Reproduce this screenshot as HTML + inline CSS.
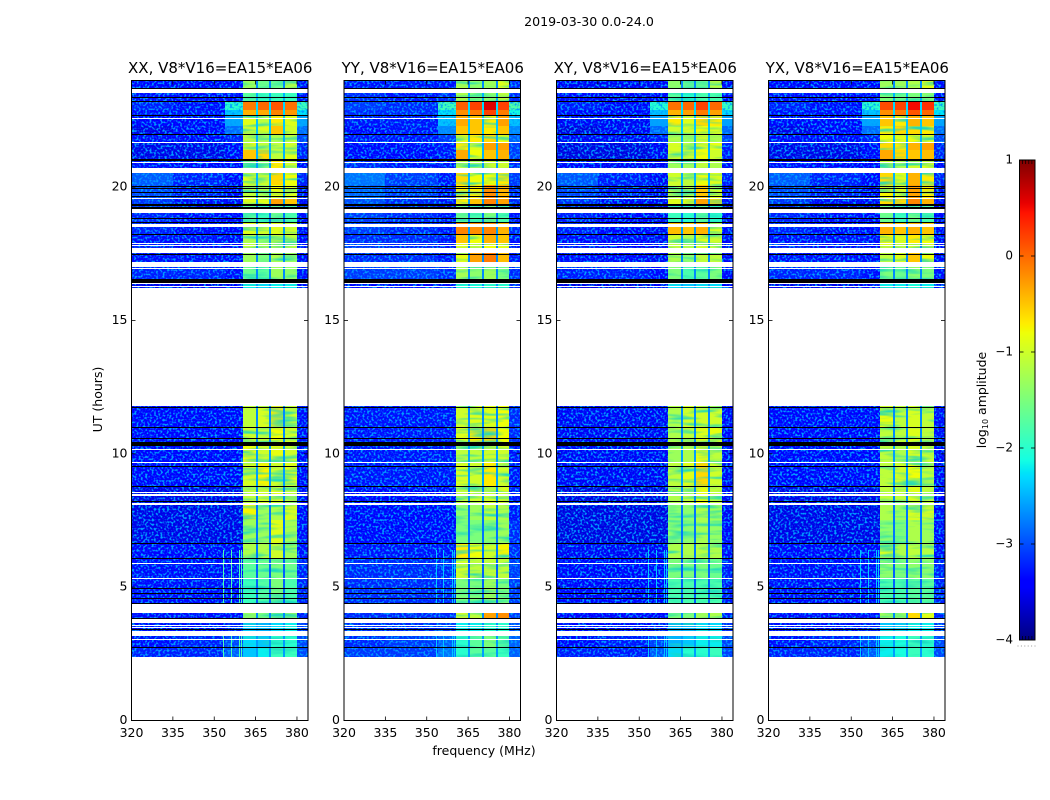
<!DOCTYPE html>
<html lang="en">
<head>
<meta charset="utf-8">
<title>2019-03-30 amplitude waterfall</title>
<style>
html,body{margin:0;padding:0;background:#fff;width:1050px;height:800px;overflow:hidden}
svg{display:block}
text{font-family:"DejaVu Sans","Liberation Sans",sans-serif;fill:#000}
</style>
</head>
<body>
<svg id="chart" xmlns="http://www.w3.org/2000/svg" width="1050" height="800" viewBox="0 0 1050 800">
  <defs>
    <filter id="grain" filterUnits="userSpaceOnUse" x="0" y="0" width="1050" height="800" color-interpolation-filters="sRGB">
      <feTurbulence type="fractalNoise" baseFrequency="0.46" numOctaves="1" seed="7"/>
      <feColorMatrix type="matrix" values="0 0 0 0 0  0 0 0 0 0.62  0 0 0 0 1  5 0 0 0 -2.4"/>
      <feComposite in2="SourceAlpha" operator="in"/>
    </filter>
    <filter id="streaks" filterUnits="userSpaceOnUse" x="0" y="0" width="1050" height="800" color-interpolation-filters="sRGB">
      <feTurbulence type="fractalNoise" baseFrequency="0.03 0.22" numOctaves="2" seed="11"/>
      <feColorMatrix type="matrix" values="0 0 0 0 0.1  0 0 0 0 0.85  0 0 0 0 0.75  2.6 0 0 0 -1.2"/>
      <feComposite in2="SourceAlpha" operator="in"/>
    </filter>
  </defs>
  <text x="589" y="26" font-size="12.6" text-anchor="middle">2019-03-30 0.0-24.0</text>
  <text x="484" y="755" font-size="12.5" text-anchor="middle">frequency (MHz)</text>
  <text x="0" y="0" font-size="12.5" text-anchor="middle" transform="translate(102,399.5) rotate(-90)">UT (hours)</text>
  <text x="0" y="0" font-size="12.5" text-anchor="middle" transform="translate(986,400) rotate(-90)">log<tspan font-size="8" dy="2">10</tspan><tspan dy="-2"> amplitude</tspan></text>
</svg>
<script>
// ---- categories and axes ----
const panelTitles = ["XX, V8*V16=EA15*EA06", "YY, V8*V16=EA15*EA06", "XY, V8*V16=EA15*EA06", "YX, V8*V16=EA15*EA06"];
const xTicks = [320, 335, 350, 365, 380];
const yTicks = [0, 5, 10, 15, 20];
const colorTicks = [1, 0, -1, -2, -3, -4];
const bandStartMHz = [360.6, 365.7, 370.6, 375.8];
const bandEndMHz = [365.1, 370, 375, 380];

// ---- time rows (UT hours) ----
const rowStartUT = [24,23.66,23.16,22.88,22.65,22.28,21.94,21.66,21.38,21,20.71,20.06,19.56,19.28,18.62,18.21,17.89,17.51,17.18,16.54,
  11.78,10.99,10.43,9.66,8.76,8.06,7.5,6.62,6.06,5.29,4.35,3.82,3.15,2.7];
const rowEndUT = [23.66,23.16,22.88,22.65,22.28,21.94,21.66,21.38,21,20.71,20.06,19.56,19.28,18.62,18.21,17.89,17.51,17.18,16.54,16.2,
  10.99,10.43,9.66,8.76,8.06,7.5,6.62,6.06,5.29,4.35,3.82,3.15,2.7,2.36];

// ---- log10 amplitude: off-band regions, one value per row ----
const leftLevels = [-3.2,-3.1,-3,-3.1,-3.2,-3.3,-3.2,-3.3,-3.3,-3.1,-2.7,-2.8,-2.9,-3,-3,-3.1,-3,-3.1,-3,-3.3,
  -3.2,-3.2,-3.2,-3.2,-3.3,-3.3,-3.3,-3.2,-3.1,-3.1,-3.1,-3.1,-3.1,-3];
const midLevels = [-3.2,-3.2,-3.1,-3.1,-3.2,-3.2,-3.2,-3.3,-3.3,-3.2,-3,-3,-3.1,-3.1,-3.1,-3.1,-3.1,-3.1,-3,-3.3,
  -3.2,-3.2,-3.2,-3.2,-3.3,-3.3,-3.3,-3.2,-3.1,-3.1,-3.1,-3.1,-3,-3];
const shoulderLevels = [-3.2,-3.1,-1.75,-2.15,-2.3,-2.6,-3,-3.2,-3.2,-3.2,-3.2,-3.2,-3.2,-3.2,-3.2,-3.2,-3.2,-3.2,-3.1,-3.2,
  -3.2,-3.2,-3.2,-3.2,-3.3,-3.3,-3.3,-3.2,-3.1,-3.1,-3.1,-3,-2.8,-2.7];
const postLevels = [-3.1,-3.1,-1.65,-2,-2.3,-2.6,-2.8,-3,-3,-3.1,-3,-3.1,-3.1,-3.2,-3.1,-3.2,-3.2,-3.2,-3.1,-3.1,
  -3.1,-3.1,-3.2,-3.2,-3.2,-3.2,-3.1,-3.1,-3,-3,-3,-2.9,-2.8,-2.8];
const gapLevels = [-2.7,-2.5,-2.3,-2.3,-2.4,-2.4,-2.5,-2.5,-2.5,-2.6,-2.5,-2.6,-2.6,-2.8,-2.6,-2.6,-2.7,-2.7,-2.7,-2.6,
  -2.7,-2.7,-2.6,-2.6,-2.7,-2.8,-2.8,-2.8,-2.9,-2.9,-2.7,-2.6,-2.6,-2.6];
const panelBackgroundOffset = [-0.25, -0.12, -0.28, -0.25];

// ---- log10 amplitude: four spectral windows per row, one table per correlation ----
const xxBandLevels = [
  [-1.3,-1.6,-1.6,-1.2],[-1.7,-1.9,-1.9,-1.9],[-0.1,0,0.1,-0.05],[-0.4,-0.35,-0.15,-0.25],[-0.9,-1.1,-0.7,-0.9],
  [-1,-0.9,-0.5,-1],[-1.1,-1.2,-1.2,-1.1],[-0.8,-1.1,-1.1,-1],[-0.5,-0.6,-1.1,-0.9],[-1.3,-1.4,-0.7,-1],
  [-0.9,-1,-0.6,-0.8],[-1.1,-1.2,-0.8,-0.9],[-0.9,-0.9,-0.3,-0.5],[-1.7,-1.9,-1.6,-1.8],[-0.9,-1,-0.9,-1],
  [-1.2,-1.4,-1.1,-1.1],[-1.1,-1.2,-1.1,-1.1],[-1.3,-1.5,-1.2,-1.3],[-1.6,-1.7,-1.3,-1.4],[-2.2,-2.3,-2.2,-2.2],
  [-1.1,-0.95,-0.7,-1],[-1,-1.1,-0.8,-1],[-0.8,-1,-0.85,-1],[-0.95,-0.75,-1,-0.9],[-1.1,-1,-0.85,-1.1],
  [-0.75,-1.3,-1.2,-0.95],[-1.3,-1.3,-0.9,-1.25],[-1.2,-1.2,-1,-1.3],[-1.7,-1.6,-1.5,-1.6],[-1.9,-1.75,-1.5,-1.8],
  [-1.3,-1.5,-1.3,-1.2],[-2.4,-2.5,-2.3,-2.2],[-2.3,-2.4,-2,-2],[-2.4,-2.2,-1.9,-1.9]
];
const yyBandLevels = [
  [-1.2,-1.4,-1.3,-0.9],[-1.2,-1.5,-1.4,-1.1],[0.05,0.2,0.6,0.2],[-0.2,-0.1,0.2,-0.1],[-0.35,-0.5,-0.7,-0.3],
  [-0.5,-0.5,-0.7,-0.5],[-0.8,-0.7,-0.6,-0.8],[-0.7,-0.9,-0.3,-0.3],[-0.35,-0.8,-0.5,-0.4],[-1.1,-1.2,-1,-1],
  [-0.6,-0.8,-0.8,-0.7],[-0.7,-0.7,-0.2,-0.4],[-0.7,-0.5,-0.15,-0.3],[-1.6,-1.8,-1.5,-1.8],[-0.15,-0.2,-0.15,-0.4],
  [-0.5,-0.8,-0.4,-0.5],[-0.9,-1,-0.8,-0.9],[-0.85,-0.3,-0.1,-0.45],[-1.25,-1.4,-1.3,-1.5],[-2.1,-2.1,-2,-2],
  [-1,-0.9,-0.9,-0.8],[-0.9,-0.7,-0.6,-0.8],[-1.1,-1.1,-1,-1],[-0.95,-1,-0.7,-1],[-1.1,-1,-1,-0.95],
  [-1.4,-1.3,-1.1,-1.2],[-1.5,-1.5,-1.4,-1.3],[-0.7,-0.8,-1,-0.75],[-1,-1.1,-1.1,-1.1],[-1.5,-1.5,-1.3,-1.5],
  [-1,-1.1,-0.3,-0.2],[-2.2,-2.2,-2,-2],[-2,-1.7,-1.5,-1.7],[-2,-1.7,-1.7,-1.9]
];
const xyBandLevels = [
  [-1.4,-1.6,-1.6,-1.1],[-1.7,-2,-1.8,-1.8],[-0.05,0,0.2,0],[-0.4,-0.3,-0.1,-0.3],[-0.7,-0.9,-0.6,-0.7],
  [-1,-1,-0.8,-0.9],[-1.2,-1.3,-1,-1.2],[-0.95,-1.1,-0.9,-0.85],[-0.95,-1,-0.8,-1],[-1.3,-1.3,-1.1,-1.2],
  [-1,-1.1,-0.8,-0.9],[-1.1,-1.2,-0.5,-0.9],[-0.9,-0.9,-0.3,-0.6],[-1.9,-2,-1.7,-2],[-0.45,-0.5,-0.4,-0.9],
  [-1,-1.2,-0.9,-1],[-1.1,-1.2,-1,-1.1],[-1.2,-1.4,-1.1,-1.1],[-1.5,-1.8,-1.7,-1.5],[-2.3,-2.4,-2.3,-2.3],
  [-1.2,-1,-1,-1],[-1.2,-1.1,-0.9,-0.85],[-1.3,-1.2,-0.85,-1.1],[-1.1,-0.9,-0.6,-1],[-1.2,-1.1,-0.85,-1.1],
  [-1.4,-1.4,-1.2,-1.3],[-1.4,-1.4,-1.25,-1.35],[-1.2,-1.2,-1.15,-1.2],[-1.5,-1.5,-1.5,-1.6],[-1.8,-1.8,-1.8,-1.8],
  [-1.5,-1.5,-1.3,-1.2],[-2.5,-2.5,-2.3,-2.3],[-2.5,-2.4,-2.2,-2.2],[-2.3,-2,-2,-1.9]
];
const yxBandLevels = [
  [-1.3,-1.3,-1.2,-0.9],[-1.5,-1.6,-1.5,-1.4],[0.15,0.2,0.5,0.3],[-0.2,-0.1,0.1,0],[-0.5,-0.7,-0.4,-0.5],
  [-0.7,-0.6,-0.6,-0.7],[-0.8,-0.9,-0.8,-0.9],[-0.6,-0.7,-0.4,-0.3],[-0.35,-0.6,-0.5,-0.45],[-1,-1.2,-1,-0.9],
  [-0.6,-0.9,-0.4,-0.7],[-0.75,-0.9,-0.3,-0.7],[-0.6,-0.6,-0.15,-0.4],[-1.6,-1.9,-1.6,-1.8],[-0.4,-0.5,-0.4,-0.5],
  [-0.75,-0.9,-0.7,-0.8],[-0.9,-1,-0.9,-0.9],[-1.1,-0.9,-0.5,-0.8],[-1.5,-1.6,-1.4,-1.5],[-2.2,-2.2,-2.1,-2.2],
  [-0.85,-1.1,-0.95,-1.1],[-1.1,-1.1,-0.9,-1.1],[-1.1,-1.2,-0.95,-1.05],[-1.1,-1,-0.8,-1.1],[-1.1,-1.1,-0.9,-1.1],
  [-1.2,-1.3,-0.95,-1],[-1.4,-1.5,-1.2,-1.3],[-0.95,-1.2,-1.1,-1.15],[-1.4,-1.5,-1.4,-1.4],[-1.8,-1.8,-1.7,-1.7],
  [-1.3,-1.3,-0.6,-0.9],[-2.4,-2.4,-2.2,-2.2],[-2.2,-2.1,-1.9,-2],[-2.2,-2.1,-1.9,-2]
];
const panelBandLevels = [xxBandLevels, yyBandLevels, xyBandLevels, yxBandLevels];

// ---- narrow interference channels ----
const rfiMHz = [353.3, 355.9, 359, 359.8];
const rfiStartUT = [6.37, 3.15];
const rfiEndUT = [4.38, 2.36];
const panelRfiLevels = [-1.8, -2.4, -2.4, -2.4];

// ---- flagged time ranges (UT hours) ----
const whiteStartUT = [23.66,22.57,21.68,20.93,20.71,19.58,19.16,18.61,17.9,17.81,17.69,17.18,16.96,16.38,16.29,11.73,10.17,9.68,8.55,8.46,8.14,8.09,5.89,5.33,4.34,3.79,3.56,3.48,3.35,3.04];
const whiteEndUT = [23.51,22.53,21.64,20.89,20.51,19.54,19.02,18.49,17.86,17.78,17.52,16.99,16.91,16.34,16.25,11.69,10.13,9.63,8.51,8.41,8.1,8.05,5.85,5.29,4,3.63,3.53,3.44,3.15,3];
const blackStartUT = [23.71,23.37,23.22,22.69,21.98,21.02,20.04,19.95,19.8,19.65,19.34,19.25,18.81,18.67,18.21,17.49,16.54,11.74,10.99,10.56,10.44,9.53,8.77,8.2,6.64,6.08,4.95,4.76,4.57,4.39,3.84,3.4,2.74];
const blackEndUT = [23.67,23.34,23.16,22.65,21.94,20.98,20,19.91,19.76,19.61,19.28,19.16,18.77,18.64,18.18,17.45,16.38,11.72,10.95,10.52,10.28,9.49,8.74,8.16,6.6,6.04,4.91,4.73,4.54,4.35,3.8,3.36,2.7];

// ---- layout ----
const NS = "http://www.w3.org/2000/svg";
const svg = document.getElementById("chart");
const panelLeft = [131.5, 344, 556.5, 768.5];
const panelWidth = 176.5;
const plotTop = 80.5;
const plotBottom = 720.5;
const cbLeft = 1019.5, cbRight = 1035, cbTop = 160, cbBottom = 640;
const SHOULDER_MHZ = 354;
const STREAK_BELOW = -0.5;

function xScale(p, mhz) { return panelLeft[p] + (mhz - 320) / 64 * panelWidth; }
function yScale(ut) { return plotBottom - ut / 24 * (plotBottom - plotTop); }
function cbScale(v) { return cbBottom - (v + 4) / 5 * (cbBottom - cbTop); }
function lerp(pts, t) {
  for (let i = 1; i < pts.length; i++) {
    if (t <= pts[i][0]) {
      const f = (t - pts[i - 1][0]) / (pts[i][0] - pts[i - 1][0]);
      return pts[i - 1][1] + f * (pts[i][1] - pts[i - 1][1]);
    }
  }
  return pts[pts.length - 1][1];
}
function jet(v) {
  const t = Math.max(0, Math.min(1, (v + 4) / 5));
  const r = lerp([[0,0],[0.35,0],[0.66,1],[0.89,1],[1,0.5]], t);
  const g = lerp([[0,0],[0.125,0],[0.375,1],[0.64,1],[0.91,0],[1,0]], t);
  const b = lerp([[0,0.5],[0.11,1],[0.34,1],[0.65,0],[1,0]], t);
  return "rgb(" + Math.round(r * 255) + "," + Math.round(g * 255) + "," + Math.round(b * 255) + ")";
}
function mk(parent, tag, attrs, txt) {
  const e = document.createElementNS(NS, tag);
  for (const k in attrs) e.setAttribute(k, attrs[k]);
  if (txt !== undefined) e.textContent = txt;
  parent.appendChild(e);
  return e;
}
function band(parent, p, mhz0, mhz1, ut0, ut1, fill) {
  const x0 = Math.round(xScale(p, mhz0)), x1 = Math.round(xScale(p, mhz1));
  const y0 = Math.round(yScale(ut0) - 0.5), y1 = Math.max(y0 + 1, Math.round(yScale(ut1) - 0.5));
  return mk(parent, "rect", { x: x0, y: y0, width: Math.max(1, x1 - x0), height: y1 - y0, fill: fill, "shape-rendering": "crispEdges" });
}

panelTitles.forEach(function (title, p) {
  const levels = panelBandLevels[p];
  const off = panelBackgroundOffset[p];
  const g = mk(svg, "g", {});
  
  

  const cells = mk(g, "g", {});
  
  
  const grainGroup = mk(g, "g", { filter: "url(#grain)" });
  
  
  const streakGroup = mk(g, "g", { filter: "url(#streaks)" });
  
  

  rowStartUT.forEach(function (ut0, r) {
    const ut1 = rowEndUT[r];
    const regions = [
      [320, 335, leftLevels[r] + off],
      [335, SHOULDER_MHZ, midLevels[r] + off],
      [SHOULDER_MHZ, bandStartMHz[0], shoulderLevels[r] + off],
      [bandEndMHz[3], 384, postLevels[r] + off]
    ];
    regions.forEach(function (reg) {
      const c = band(cells, p, reg[0], reg[1], ut0, ut1, jet(reg[2]));
      
      
      const n = band(grainGroup, p, reg[0], reg[1], ut0, ut1, "#000");
      
      
    });
    bandStartMHz.forEach(function (m0, b) {
      const c = band(cells, p, m0, bandEndMHz[b], ut0, ut1, jet(levels[r][b]));
      
      
      if (levels[r][b] < STREAK_BELOW) {
        const s = band(streakGroup, p, m0, bandEndMHz[b], ut0, ut1, "#000");
        
        
      }
      if (b < 3) {
        const d = band(cells, p, bandEndMHz[b], bandStartMHz[b + 1], ut0, ut1, jet(gapLevels[r]));
        
        
      }
    });
  });

  rfiStartUT.forEach(function (u0, s) {
    rfiMHz.forEach(function (m) {
      const l = band(g, p, m, m + 0.35, u0, rfiEndUT[s], jet(panelRfiLevels[p]));
      
      
    });
  });

  whiteStartUT.forEach(function (u0, i) {
    const w = band(g, p, 320, 384, u0, whiteEndUT[i], "#fff");
    
    
  });
  blackStartUT.forEach(function (u0, i) {
    const b = band(g, p, 320, 384, u0, blackEndUT[i], "#000");
    
    
  });

  const L = panelLeft[p], R = L + panelWidth;
  xTicks.forEach(function (t) {
    const x = xScale(p, t);
    const a = mk(g, "line", { x1: x, x2: x, y1: plotBottom, y2: plotBottom - 4, stroke: "#000", "stroke-width": 0.8 });
    
    
    const b = mk(g, "line", { x1: x, x2: x, y1: plotTop, y2: plotTop + 4, stroke: "#000", "stroke-width": 0.8 });
    
    
    const lbl = mk(g, "text", { x: x, y: 737, "font-size": 12.5, "text-anchor": "middle" }, String(t));
    
    
  });
  yTicks.forEach(function (t) {
    const y = yScale(t);
    const a = mk(g, "line", { x1: L, x2: L + 4, y1: y, y2: y, stroke: "#000", "stroke-width": 0.8 });
    
    
    const b = mk(g, "line", { x1: R, x2: R - 4, y1: y, y2: y, stroke: "#000", "stroke-width": 0.8 });
    
    
    const lbl = mk(g, "text", { x: L - 4, y: y + 3.5, "font-size": 12.5, "text-anchor": "end" }, String(t));
    
    
  });

  const frame = mk(g, "rect", { x: L, y: plotTop, width: panelWidth, height: plotBottom - plotTop, fill: "none", stroke: "#000", "stroke-width": 1 });
  
  
  const ttl = mk(g, "text", { x: L + panelWidth / 2 + 0.5, y: 73, "font-size": 15, "text-anchor": "middle" }, title);
  
  
});

// colorbar
const cb = mk(svg, "g", {});


for (let y = cbTop; y < cbBottom; y++) {
  const v = 1 - (y + 0.5 - cbTop) / (cbBottom - cbTop) * 5;
  const s = mk(cb, "rect", { x: cbLeft, y: y, width: cbRight - cbLeft, height: 1, fill: jet(v), "shape-rendering": "crispEdges" });
  
  
}
const cbFrame = mk(cb, "rect", { x: cbLeft, y: cbTop, width: cbRight - cbLeft, height: cbBottom - cbTop, fill: "none", stroke: "#000", "stroke-width": 1 });


colorTicks.forEach(function (t) {
  const y = cbScale(t);
  const a = mk(cb, "line", { x1: cbLeft, x2: cbLeft + 4, y1: y, y2: y, stroke: "#000", "stroke-width": 0.8 });
  
  
  const b = mk(cb, "line", { x1: cbRight, x2: cbRight - 4, y1: y, y2: y, stroke: "#000", "stroke-width": 0.8 });
  
  
  const lbl = mk(cb, "text", { x: 1013, y: y + 3.5, "font-size": 12, "text-anchor": "end" }, t < 0 ? "\u2212" + Math.abs(t) : String(t));
  
  
});
[-4, 1].forEach(function (t) {
  for (let i = 1; i < 5; i++) {
    const x = cbLeft + i * (cbRight - cbLeft) / 5;
    const y = cbScale(t);
    const m = mk(cb, "line", { x1: x, x2: x, y1: y, y2: t > 0 ? y + 4 : y - 4, stroke: "#000", "stroke-width": 0.7 });
    
    
  }
});
for (let i = 0; i < 6; i++) {
  const x = cbLeft - 2 + i * 3.4;
  const dot = mk(cb, "rect", { x: x, y: 645.5, width: 1, height: 1, fill: "#999" });
  
  
}
</script>
</body>
</html>
